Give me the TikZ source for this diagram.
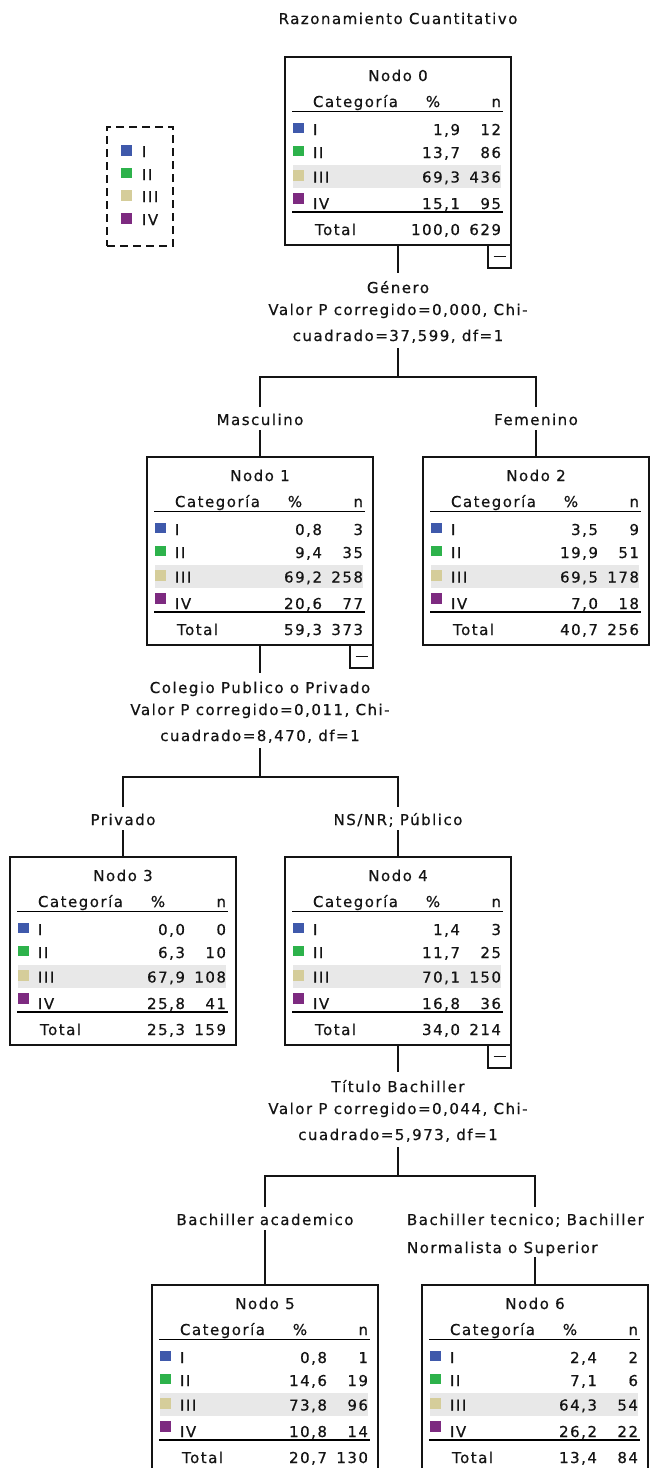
\documentclass[tikz,border=0pt]{standalone}
\usepackage{fontspec}
\setmainfont{DejaVu Sans}[LetterSpace=10, FakeBold=0.6]
\usetikzlibrary{calc}

\definecolor{catI}{HTML}{3F59AB}
\definecolor{catII}{HTML}{2DB24B}
\definecolor{catIII}{HTML}{D5CD9A}
\definecolor{catIV}{HTML}{7D2A80}
\definecolor{rowshade}{HTML}{E8E8E8}
\definecolor{ink}{HTML}{141414}

\newcommand\treefont{\fontsize{15pt}{22pt}\selectfont}
\newcommand\topstrut[1]{\rule{0pt}{#1pt}}
\newcommand\botstrut[1]{\rule[-#1pt]{0pt}{#1pt}}

\tikzset{
  every node/.style={font=\treefont, text=ink, inner sep=0pt, outer sep=0pt},
  treebox/.style={draw=ink, line width=1.4pt, minimum width=226pt, minimum height=188pt, anchor=north},
  minusbox/.style={draw=ink, line width=1.3pt, minimum width=23pt, minimum height=23pt, anchor=north east},
  tablerule/.style={draw=black, line width=1.3pt},
  conn/.style={draw=ink, line width=1.3pt},
  splitlabel/.style={align=center, anchor=north},
  edgelabel/.style={anchor=north},
  legendbox/.style={draw=ink, dash pattern=on 8pt off 5pt, line width=1.3pt, minimum width=66pt, minimum height=119pt, anchor=north west},
}

% frame of a tree node: box, heading, column titles and rules
\newcommand\treenode[4]{%
  \node[treebox] (#1) at (#2,#3) {};
  \fill[rowshade] ($(#1.north west)+(8,108)$) rectangle ($(#1.north east)+(-10,131)$);
  \node[anchor=base] (#1-title) at ($(#1.north)+(0,24)$) {Nodo #4};
  \node[anchor=base west] (#1-hcat) at ($(#1.north west)+(28,50)$) {Categoría};
  \node[anchor=base] (#1-hpct) at ($(#1.north west)+(148,50)$) {\%};
  \node[anchor=base east] (#1-hn) at ($(#1.north west)+(216,50)$) {n};
  \draw[tablerule] ($(#1.north west)+(7,54.5)$) -- ($(#1.north east)+(-8,54.5)$);
  \draw[tablerule] ($(#1.north west)+(7,155)$) -- ($(#1.north east)+(-8,155)$);
}
% one category row: node, tag, baseline, swatch top, colour, label, percent, count
\newcommand\treerow[8]{%
  \fill[#5] ($(#1.north west)+(8,#4)$) rectangle ++(10.5,10.5);
  \node[anchor=base west] (#1-#2-lab) at ($(#1.north west)+(28,#3)$) {#6};
  \node[anchor=base east] (#1-#2-pct) at ($(#1.north west)+(175,#3)$) {#7};
  \node[anchor=base east] (#1-#2-n) at ($(#1.north west)+(216,#3)$) {#8};
}
\newcommand\treerows[9]{%
  \treerow{#1}{r1}{78}{65.5}{catI}{I}{#2}{#3}%
  \treerow{#1}{r2}{101}{88.5}{catII}{II}{#4}{#5}%
  \treerow{#1}{r3}{125.5}{113}{catIII}{III}{#6}{#7}%
  \treerow{#1}{r4}{152}{136}{catIV}{IV}{#8}{#9}%
}
\newcommand\treetotal[3]{%
  \node[anchor=base west] (#1-tot) at ($(#1.north west)+(30,178)$) {Total};
  \node[anchor=base east] (#1-tot-pct) at ($(#1.north west)+(175,178)$) {#2};
  \node[anchor=base east] (#1-tot-n) at ($(#1.north west)+(216,178)$) {#3};
}
% collapse button under an expanded node
\newcommand\treeminus[1]{%
  \node[minusbox] (#1-minus) at (#1.south east) {};
  \draw[line width=1.2pt, ink] ($(#1-minus.center)+(-6,0)$) -- ($(#1-minus.center)+(6,0)$);
}

\begin{document}
\begin{tikzpicture}[x=1pt, y=-1pt]
\useasboundingbox (0,0) rectangle (659,1468);
\clip (0,0) rectangle (659,1468);
\fill[white] (0,0) rectangle (659,1468);

\node[anchor=base] (title) at (398,24) {Razonamiento Cuantitativo};

% legend
\node[legendbox] (legend) at (107,127) {};
\fill[catI]   (121,145)   rectangle ++(10.5,10.5);
\fill[catII]  (121,167.5) rectangle ++(10.5,10.5);
\fill[catIII] (121,190)   rectangle ++(10.5,10.5);
\fill[catIV]  (121,213)   rectangle ++(10.5,10.5);
\node[anchor=base west] (leg1) at (142,157) {I};
\node[anchor=base west] (leg2) at (142,180) {II};
\node[anchor=base west] (leg3) at (142,202) {III};
\node[anchor=base west] (leg4) at (142,225) {IV};

% level 0
\treenode{n0}{398}{57}{0}
\treerows{n0}{1,9}{12}{13,7}{86}{69,3}{436}{15,1}{95}
\treetotal{n0}{100,0}{629}
\treeminus{n0}

\node[splitlabel] (s0) at (398,273) {\topstrut{20}Género\\ Valor P corregido=0,000, Chi-\\[4pt] cuadrado=37,599, df=1\botstrut{7}};
\coordinate (j0) at ($(s0.south)+(0,29)$);
\node[edgelabel] (e1) at (260,407) {\topstrut{18}Masculino\botstrut{5}};
\node[edgelabel] (e2) at (536,407) {\topstrut{18}Femenino\botstrut{5}};

% level 1
\treenode{n1}{260}{457}{1}
\treerows{n1}{0,8}{3}{9,4}{35}{69,2}{258}{20,6}{77}
\treetotal{n1}{59,3}{373}
\treeminus{n1}

\treenode{n2}{536}{457}{2}
\treerows{n2}{3,5}{9}{19,9}{51}{69,5}{178}{7,0}{18}
\treetotal{n2}{40,7}{256}

\draw[conn] (n0.south) -- (s0.north);
\draw[conn] (s0.south) -- (j0);
\draw[conn] (e1.north) |- (j0) -| (e2.north);
\draw[conn] (e1.south) -- (n1.north);
\draw[conn] (e2.south) -- (n2.north);

\node[splitlabel] (s1) at (260,673) {\topstrut{20}Colegio Publico o Privado\\ Valor P corregido=0,011, Chi-\\[4pt] cuadrado=8,470, df=1\botstrut{7}};
\coordinate (j1) at ($(s1.south)+(0,29)$);
\node[edgelabel] (e3) at (123,807) {\topstrut{18}Privado\botstrut{5}};
\node[edgelabel] (e4) at (398,807) {\topstrut{18}NS/NR; Público\botstrut{5}};

% level 2
\treenode{n3}{123}{857}{3}
\treerows{n3}{0,0}{0}{6,3}{10}{67,9}{108}{25,8}{41}
\treetotal{n3}{25,3}{159}

\treenode{n4}{398}{857}{4}
\treerows{n4}{1,4}{3}{11,7}{25}{70,1}{150}{16,8}{36}
\treetotal{n4}{34,0}{214}
\treeminus{n4}

\draw[conn] (n1.south) -- (s1.north);
\draw[conn] (s1.south) -- (j1);
\draw[conn] (e3.north) |- (j1) -| (e4.north);
\draw[conn] (e3.south) -- (n3.north);
\draw[conn] (e4.south) -- (n4.north);

\node[splitlabel] (s2) at (398,1072) {\topstrut{20}Título Bachiller\\ Valor P corregido=0,044, Chi-\\[4pt] cuadrado=5,973, df=1\botstrut{7}};
\coordinate (j2) at ($(s2.south)+(0,29)$);
\node[edgelabel] (e5) at (265,1207) {\topstrut{18}Bachiller academico\botstrut{5}};
\node[anchor=north west, align=left] (e6) at (407,1207) {\topstrut{18}Bachiller tecnico; Bachiller\\[6pt] Normalista o Superior\botstrut{4}};

% level 3
\treenode{n5}{265}{1285}{5}
\treerows{n5}{0,8}{1}{14,6}{19}{73,8}{96}{10,8}{14}
\treetotal{n5}{20,7}{130}

\treenode{n6}{535}{1285}{6}
\treerows{n6}{2,4}{2}{7,1}{6}{64,3}{54}{26,2}{22}
\treetotal{n6}{13,4}{84}

\draw[conn] (n4.south) -- (s2.north);
\draw[conn] (s2.south) -- (j2);
\draw[conn] (e5.north) |- (j2) -| (e6.north -| n6.north);
\draw[conn] (e5.south) -- (n5.north);
\draw[conn] (e6.south -| n6.north) -- (n6.north);
\end{tikzpicture}
\end{document}
